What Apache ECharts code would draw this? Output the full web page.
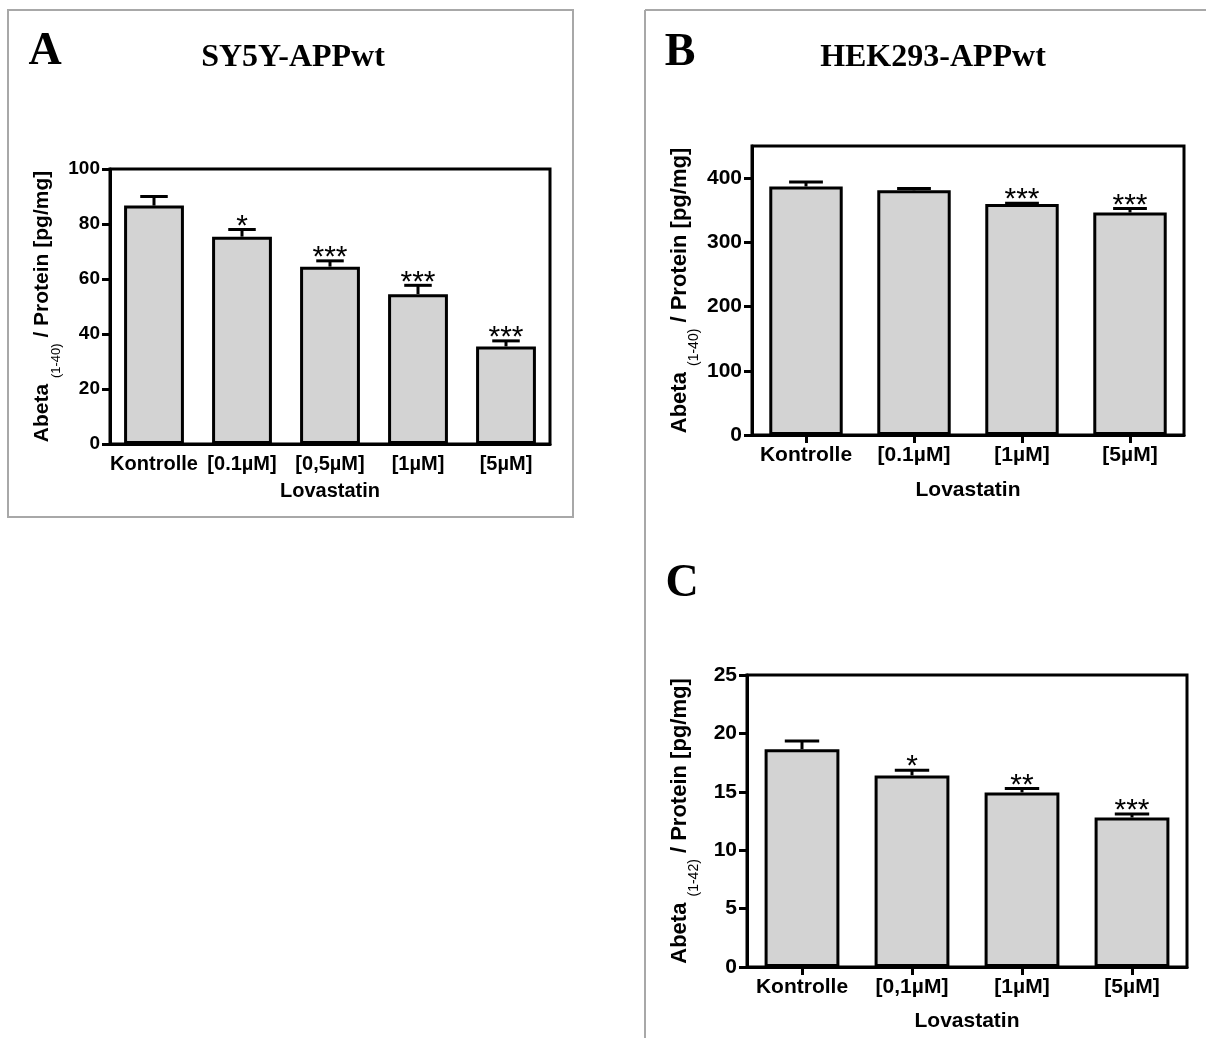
<!DOCTYPE html>
<html><head><meta charset="utf-8">
<script src="https://cdn.jsdelivr.net/npm/echarts@6/dist/echarts.min.js"></script>
<style>html,body{margin:0;padding:0;background:#fff}#c{width:1206px;height:1038px}</style>
</head><body><div id="c"></div>
<script>
// ---- data ----
const catA = ['Kontrolle', '[0.1µM]', '[0,5µM]', '[1µM]', '[5µM]'];
const meanA = [86.7, 75.4, 64.5, 54.5, 35.5];
const semA = [3.3, 2.6, 2.1, 3.2, 2.0];
const starA = ['', '*', '***', '***', '***'];

const catB = ['Kontrolle', '[0.1µM]', '[1µM]', '[5µM]'];
const meanB = [387, 381, 359.5, 346.5];
const semB = [6.8, 3, 1.5, 6];
const starB = ['', '', '***', '***'];

const catC = ['Kontrolle', '[0,1µM]', '[1µM]', '[5µM]'];
const meanC = [18.65, 16.4, 14.95, 12.8];
const semC = [0.7, 0.45, 0.33, 0.3];
const starC = ['', '*', '**', '***'];

const ticksB = [0, 100, 200, 300, 400];

// ---- styling ----
const F = '"Liberation Sans", Arial, sans-serif';
const SERIF = '"Liberation Serif", "Times New Roman", serif';
const BLACK = '#000';

function yName(sub, size, subSize) {
  return {
    name: '{a|Abeta }{s|(' + sub + ')}{a| / Protein [pg/mg]}',
    nameTextStyle: {
      rich: {
        a: { fontSize: size, fontWeight: 'bold', fontFamily: F, color: BLACK, lineHeight: size + 2, verticalAlign: 'top' },
        s: { fontSize: subSize, fontFamily: F, color: BLACK, lineHeight: size + 10, verticalAlign: 'bottom' }
      }
    }
  };
}

function xAxis(idx, cats, size, ticks, gap) {
  return {
    gridIndex: idx, type: 'category', data: cats,
    axisLine: { lineStyle: { color: BLACK, width: 3 } },
    axisTick: { show: ticks, alignWithLabel: true, length: 8, lineStyle: { color: BLACK, width: 3 } },
    axisLabel: { interval: 0, color: BLACK, fontWeight: 'bold', fontSize: size, fontFamily: F, margin: 10 },
    splitLine: { show: false },
    name: 'Lovastatin', nameLocation: 'middle', nameGap: gap,
    nameTextStyle: { color: BLACK, fontWeight: 'bold', fontSize: size, fontFamily: F }
  };
}

function yAxis(idx, min, max, interval, size, nameSize, subSize, sub, gap, custom) {
  const ax = Object.assign({
    gridIndex: idx, type: 'value', min: min, max: max, interval: interval,
    axisLine: { show: true, lineStyle: { color: BLACK, width: 3 } },
    axisTick: { show: true, length: 8, lineStyle: { color: BLACK, width: 3 } },
    axisLabel: { color: BLACK, fontWeight: 'bold', fontSize: size, fontFamily: F, margin: 10 },
    splitLine: { show: false },
    nameLocation: 'middle', nameGap: gap, nameRotate: 90
  }, yName(sub, nameSize, subSize));
  if (custom) {
    ax.axisLabel.customValues = custom;
    ax.axisTick.customValues = custom;
  }
  return ax;
}

function errRender(stars) {
  return function (params, api) {
    const x = api.value(0), m = api.value(1), t = api.value(2);
    const p0 = api.coord([x, m]);
    const p1 = api.coord([x, t]);
    const bw = api.size([1, 0])[0] * 0.68;
    const h = bw * 0.23;
    const children = [
      { type: 'line', shape: { x1: p0[0], y1: p0[1], x2: p1[0], y2: p1[1] }, style: { stroke: BLACK, lineWidth: 3 } },
      { type: 'line', shape: { x1: p1[0] - h, y1: p1[1], x2: p1[0] + h, y2: p1[1] }, style: { stroke: BLACK, lineWidth: 3 } }
    ];
    const s = stars[params.dataIndex];
    if (s) {
      children.push({ type: 'text', x: p1[0], y: p1[1] - 3, style: { text: s, fontSize: 30, fontFamily: F, fill: BLACK, align: 'center', verticalAlign: 'middle' } });
    }
    return { type: 'group', children: children };
  };
}

function barSeries(idx, vals) {
  return {
    type: 'bar', xAxisIndex: idx, yAxisIndex: idx, data: vals,
    barCategoryGap: '32%',
    itemStyle: { color: '#d3d3d3', borderColor: BLACK, borderWidth: 3 },
    emphasis: { disabled: true }, silent: true
  };
}
function errSeries(idx, vals, sems, stars) {
  return {
    type: 'custom', xAxisIndex: idx, yAxisIndex: idx, silent: true, z: 5,
    data: vals.map(function (v, i) { return [i, v, v + sems[i]]; }),
    renderItem: errRender(stars)
  };
}

const gridStyle = { show: true, borderColor: BLACK, borderWidth: 3, backgroundColor: 'transparent' };

const chart = echarts.init(document.getElementById('c'), null, { renderer: 'canvas' });
chart.setOption({
  backgroundColor: '#fff',
  animation: false,
  grid: [
    Object.assign({ left: 110, top: 169, width: 440, height: 275 }, gridStyle),
    Object.assign({ left: 752, top: 146, width: 432, height: 289 }, gridStyle),
    Object.assign({ left: 747, top: 675, width: 440, height: 292 }, gridStyle)
  ],
  xAxis: [
    xAxis(0, catA, 20, false, 37),
    xAxis(1, catB, 21, true, 45),
    xAxis(2, catC, 21, true, 44)
  ],
  yAxis: [
    yAxis(0, 0, 100, 20, 19, 21, 13, '1-40', 47),
    yAxis(1, 0, 450, 100, 21, 22, 14, '1-40', 51, ticksB),
    yAxis(2, 0, 25, 5, 21, 22, 14, '1-42', 46)
  ],
  series: [
    barSeries(0, meanA), errSeries(0, meanA, semA, starA),
    barSeries(1, meanB), errSeries(1, meanB, semB, starB),
    barSeries(2, meanC), errSeries(2, meanC, semC, starC)
  ],
  graphic: [
    { type: 'rect', shape: { x: 8, y: 10, width: 565, height: 507 }, style: { fill: 'none', stroke: '#a8a8a8', lineWidth: 2 }, silent: true },
    { type: 'line', shape: { x1: 645, y1: 10, x2: 645, y2: 1038 }, style: { stroke: '#a8a8a8', lineWidth: 2 }, silent: true },
    { type: 'line', shape: { x1: 645, y1: 10, x2: 1206, y2: 10 }, style: { stroke: '#a8a8a8', lineWidth: 2 }, silent: true },
    { type: 'text', x: 45, y: 52, style: { text: 'A', font: 'bold 46px ' + SERIF, fill: BLACK, align: 'center', verticalAlign: 'middle' } },
    { type: 'text', x: 293, y: 58, style: { text: 'SY5Y-APPwt', font: 'bold 32px ' + SERIF, fill: BLACK, align: 'center', verticalAlign: 'middle' } },
    { type: 'text', x: 680, y: 53, style: { text: 'B', font: 'bold 46px ' + SERIF, fill: BLACK, align: 'center', verticalAlign: 'middle' } },
    { type: 'text', x: 933, y: 58, style: { text: 'HEK293-APPwt', font: 'bold 32px ' + SERIF, fill: BLACK, align: 'center', verticalAlign: 'middle' } },
    { type: 'text', x: 682, y: 584, style: { text: 'C', font: 'bold 46px ' + SERIF, fill: BLACK, align: 'center', verticalAlign: 'middle' } }
  ]
});
</script>
</body></html>
